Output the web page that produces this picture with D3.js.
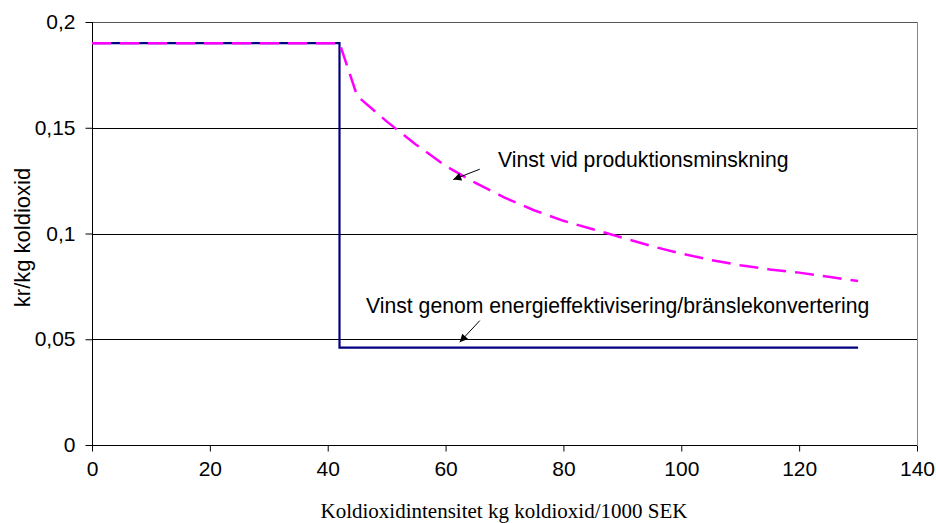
<!DOCTYPE html>
<html><head><meta charset="utf-8">
<script src="https://cdn.jsdelivr.net/npm/d3@7"></script>
<style>body{margin:0;background:#fff}svg{display:block}</style>
</head><body>
<svg id="c" width="936" height="523"></svg>
<script>
// Data
const xTicks = [0, 20, 40, 60, 80, 100, 120, 140];
const yTicks = [0, 0.05, 0.1, 0.15, 0.2];
const energyX = [0, 42, 42, 130];
const energyY = [0.19, 0.19, 0.046, 0.046];
const prodX = [0, 42, 45, 50, 55, 60, 65, 70, 75, 80, 85, 90, 95, 100, 105, 110, 115, 120, 125, 130];
const prodY = [0.19, 0.19, 0.165, 0.153, 0.142, 0.132, 0.124, 0.117, 0.111, 0.106, 0.102, 0.098, 0.094, 0.0905, 0.0875, 0.085, 0.083, 0.0815, 0.0795, 0.0775];
const labels = ["Vinst vid produktionsminskning", "Vinst genom energieffektivisering/bränslekonvertering"];
const labelPos = [[68.9, 0.1314], [46.5, 0.0624]];
const arrows = [[65.8, 0.1304, 61.3, 0.1255], [65.8, 0.0588, 62.4, 0.0486]];
const xTitle = "Koldioxidintensitet kg koldioxid/1000 SEK";
const yTitle = "kr/kg koldioxid";

const W = 936, H = 523;
const m = {l: 92, r: 19, t: 22, b: 78};
const svg = d3.select("#c");
const x = d3.scaleLinear().domain([0, 140]).range([m.l, W - m.r]);
const y = d3.scaleLinear().domain([0, 0.2]).range([H - m.b, m.t]);
const fmt = d => d === 0 ? "0" : String(d).replace(".", ",");
const sans = "'Liberation Sans', Arial, sans-serif";

// gridlines
svg.append("g").selectAll("line").data(yTicks).join("line")
  .attr("x1", x(0)).attr("x2", x(140))
  .attr("y1", d => Math.round(y(d)) + 0.5).attr("y2", d => Math.round(y(d)) + 0.5)
  .attr("stroke", d => d === 0.2 ? "#555" : "#000").attr("stroke-width", 1);
// right border
svg.append("line").attr("x1", Math.round(x(140)) + 0.5).attr("x2", Math.round(x(140)) + 0.5)
  .attr("y1", y(0.2)).attr("y2", y(0)).attr("stroke", "#888");

// axes
const yAxis = svg.append("g").attr("transform", `translate(${Math.round(x(0)) + 0.5},0)`)
  .call(d3.axisLeft(y).tickValues(yTicks).tickFormat(fmt).tickSize(7).tickPadding(10));
const xAxis = svg.append("g").attr("transform", `translate(0,${Math.round(y(0)) + 0.5})`)
  .call(d3.axisBottom(x).tickValues(xTicks).tickFormat(d => d).tickSize(6).tickPadding(10));
[yAxis, xAxis].forEach(a => {
  a.select(".domain").attr("stroke", "#000");
  a.selectAll(".tick line").attr("stroke", "#000");
  a.selectAll("text").attr("font-family", sans).attr("font-size", 21).attr("fill", "#000");
});
yAxis.select(".domain").attr("d", `M0,${y(0.2)}V${y(0)}`);
xAxis.select(".domain").attr("d", `M${x(0)},0H${x(140)}`);

// series
const line = d3.line().x(d => x(d[0])).y(d => y(d[1]));
svg.append("path").datum(energyX.map((v, i) => [v, energyY[i]]))
  .attr("d", line).attr("fill", "none").attr("stroke", "#000080").attr("stroke-width", 2.2);
svg.append("path").datum(prodX.map((v, i) => [v, prodY[i]]))
  .attr("d", line).attr("fill", "none").attr("stroke", "#FF00FF").attr("stroke-width", 2.5)
  .attr("stroke-dasharray", "19,9");

// annotations
svg.append("defs").append("marker").attr("id", "ah").attr("viewBox", "0 0 10 10")
  .attr("refX", 10).attr("refY", 5).attr("markerWidth", 11).attr("markerHeight", 8)
  .attr("markerUnits", "userSpaceOnUse").attr("orient", "auto")
  .append("path").attr("d", "M0,0L10,5L0,10Z").attr("fill", "#000");
svg.append("g").selectAll("line").data(arrows).join("line")
  .attr("x1", d => x(d[0])).attr("y1", d => y(d[1]))
  .attr("x2", d => x(d[2])).attr("y2", d => y(d[3]))
  .attr("stroke", "#000").attr("stroke-width", 1).attr("marker-end", "url(#ah)");
svg.append("g").selectAll("text").data(labels).join("text")
  .attr("x", (d, i) => x(labelPos[i][0])).attr("y", (d, i) => y(labelPos[i][1]))
  .attr("font-family", sans).attr("font-size", 21.2).attr("fill", "#000").text(d => d);

// titles
svg.append("text").attr("x", 504).attr("y", 518).attr("text-anchor", "middle")
  .attr("font-family", "'Liberation Serif', 'Times New Roman', serif").attr("font-size", 21)
  .attr("fill", "#000").text(xTitle);
svg.append("text").attr("transform", `translate(30,${(y(0) + y(0.2)) / 2 + 4}) rotate(-90)`)
  .attr("text-anchor", "middle").attr("font-family", sans).attr("font-size", 22)
  .attr("fill", "#000").text(yTitle);
</script>
</body></html>
